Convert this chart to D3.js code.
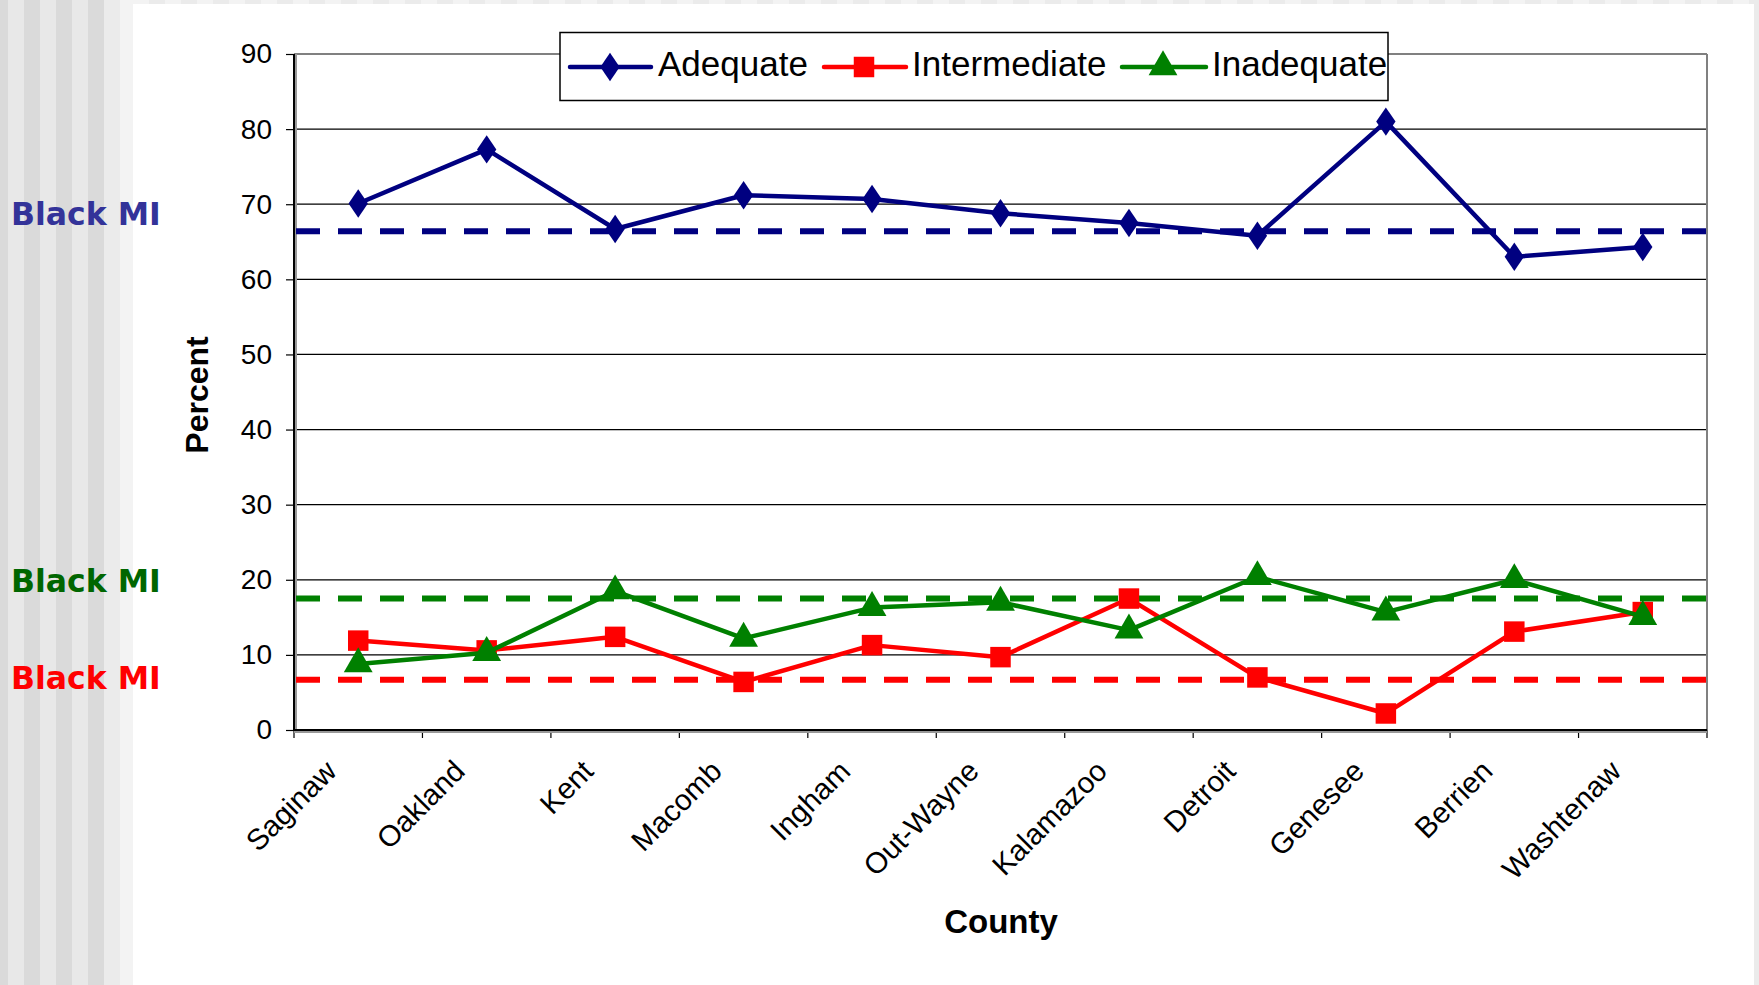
<!DOCTYPE html>
<html>
<head>
<meta charset="utf-8">
<script src="https://cdn.jsdelivr.net/npm/d3@7"></script>
<style>
  html, body { margin: 0; padding: 0; background: #ffffff; }
  svg { display: block; font-family: "Liberation Sans", Arial, sans-serif; }
</style>
</head>
<body>
<svg id="chart" width="1759" height="985"></svg>
<script>
// ---------- data ----------
const categories = ["Saginaw", "Oakland", "Kent", "Macomb", "Ingham", "Out-Wayne",
                    "Kalamazoo", "Detroit", "Genesee", "Berrien", "Washtenaw"];
const seriesNames = ["Adequate", "Intermediate", "Inadequate"];
const adequate     = [70.1, 77.3, 66.7, 71.2, 70.7, 68.8, 67.5, 65.8, 81.0, 63.0, 64.3];
const intermediate = [11.9, 10.6, 12.4, 6.4, 11.3, 9.7, 17.5, 7.0, 2.2, 13.1, 15.7];
const inadequate   = [8.8, 10.3, 18.5, 12.2, 16.3, 17.0, 13.3, 20.4, 15.7, 20.0, 15.1];
const blackMIValues = [66.4, 6.7, 17.5];           // Adequate, Intermediate, Inadequate reference
const blackMILabel = "Black MI";
const yTicks = [0, 10, 20, 30, 40, 50, 60, 70, 80, 90];
const xTitle = "County";
const yTitle = "Percent";

// ---------- styling ----------
const colors = ["#000080", "#ff0000", "#008000"];
const labelColors = ["#333399", "#ff0000", "#006600"];
const labelOffsets = [-18, -2, -18];

const svg = d3.select("#chart");
const W = 1759, H = 985;

// background stripes
const bg = svg.append("g");
for (let x = 0; x < 133; x += 16) {
  const i = Math.round(x / 16);
  let c;
  if (x < 100) c = (i % 2 === 0) ? "#dadada" : "#e8e8e8";
  else c = (i % 2 === 0) ? "#f3f3f3" : "#ebebeb";
  bg.append("rect").attr("x", x - 8).attr("y", 0).attr("width", 16).attr("height", H).attr("fill", c);
}
for (let x = 133; x < W; x += 16) {
  const i = Math.round((x - 133) / 16);
  bg.append("rect").attr("x", x).attr("y", 0).attr("width", 16).attr("height", 4)
    .attr("fill", i % 2 === 0 ? "#f3f3f3" : "#ebebeb");
}
bg.append("rect").attr("x", 133).attr("y", 4).attr("width", 1621).attr("height", H - 4).attr("fill", "#ffffff");
bg.append("rect").attr("x", 1754).attr("y", 0).attr("width", 5).attr("height", H).attr("fill", "#ebebeb");

// ---------- scales ----------
const x0 = 294, x1 = 1707, yTop = 54, yBot = 730;
const x = d3.scaleBand().domain(categories).range([x0, x1]);
const y = d3.scaleLinear().domain([0, 90]).range([yBot, yTop]);
const cx = c => x(c) + x.bandwidth() / 2;

// gridlines
svg.append("g").selectAll("line").data(yTicks.filter(t => t > 0 && t < 90)).join("line")
  .attr("x1", x0).attr("x2", x1).attr("y1", d => y(d)).attr("y2", d => y(d))
  .attr("stroke", "#000").attr("stroke-width", 1.2);

// plot border top/right
svg.append("line").attr("x1", x0).attr("x2", x1).attr("y1", y(90)).attr("y2", y(90))
  .attr("stroke", "#808080").attr("stroke-width", 2);
svg.append("line").attr("x1", x1).attr("x2", x1).attr("y1", y(90)).attr("y2", yBot)
  .attr("stroke", "#808080").attr("stroke-width", 2);

// y axis
const yAxis = svg.append("g").attr("transform", `translate(${x0},0)`)
  .call(d3.axisLeft(y).tickValues(yTicks).tickSize(8).tickPadding(14));
yAxis.select(".domain").remove();
yAxis.selectAll(".tick line").attr("stroke", "#000").attr("stroke-width", 1.2);
yAxis.selectAll(".tick text").attr("font-size", 28).attr("fill", "#000")
  .style("font-family", "'Liberation Sans', Arial, sans-serif");
svg.append("line").attr("x1", x0 + 2).attr("x2", x0 + 2).attr("y1", y(90)).attr("y2", yBot + 2)
  .attr("stroke", "#999").attr("stroke-width", 2);
svg.append("line").attr("x1", x0).attr("x2", x0).attr("y1", y(90)).attr("y2", yBot)
  .attr("stroke", "#000").attr("stroke-width", 2);

// x axis
const bounds = categories.map(c => x(c)).concat([x1]);
svg.append("g").selectAll("line").data(bounds).join("line")
  .attr("x1", d => d).attr("x2", d => d).attr("y1", yBot).attr("y2", yBot + 8)
  .attr("stroke", "#000").attr("stroke-width", 1.2);
svg.append("line").attr("x1", x0).attr("x2", x1).attr("y1", yBot + 2).attr("y2", yBot + 2)
  .attr("stroke", "#999").attr("stroke-width", 2);
svg.append("line").attr("x1", x0).attr("x2", x1).attr("y1", yBot).attr("y2", yBot)
  .attr("stroke", "#000").attr("stroke-width", 2);

svg.append("g").selectAll("text").data(categories).join("text")
  .attr("transform", d => `translate(${cx(d) - 20},773) rotate(-45)`)
  .attr("text-anchor", "end").attr("font-size", 29.5).attr("fill", "#000")
  .text(d => d);

// axis titles
svg.append("text").attr("x", 1001).attr("y", 933).attr("text-anchor", "middle")
  .attr("font-size", 33).attr("font-weight", "bold").text(xTitle);
svg.append("text").attr("transform", "translate(208,395) rotate(-90)").attr("text-anchor", "middle")
  .attr("font-size", 32).attr("font-weight", "bold").text(yTitle);

// Black MI reference lines
svg.append("g").selectAll("line").data(blackMIValues).join("line")
  .attr("x1", x0 + 2).attr("x2", x1).attr("y1", d => y(d)).attr("y2", d => y(d))
  .attr("stroke", (d, i) => colors[i]).attr("stroke-width", 6)
  .attr("stroke-dasharray", "24 18");

svg.append("g").selectAll("text").data(blackMIValues).join("text")
  .attr("x", 11).attr("y", (d, i) => y(d) + labelOffsets[i]).attr("dy", "0.36em")
  .style("font-family", "'DejaVu Sans', Verdana, sans-serif").attr("font-weight", "bold")
  .attr("font-size", 31.5).attr("fill", (d, i) => labelColors[i]).text(blackMILabel);

// series
const seriesData = [adequate, intermediate, inadequate];
const symbols = [
  d3.symbol().type(d3.symbolDiamond2).size(330),
  d3.symbol().type(d3.symbolSquare).size(420),
  d3.symbol().type(d3.symbolTriangle).size(360)
];
const line = d3.line().x((d, i) => cx(categories[i])).y(d => y(d));
seriesData.forEach((vals, s) => {
  const g = svg.append("g");
  g.append("path").datum(vals).attr("d", line).attr("fill", "none")
    .attr("stroke", colors[s]).attr("stroke-width", 4.5).attr("stroke-linejoin", "round");
  g.selectAll("path.m").data(vals).join("path").attr("class", "m")
    .attr("transform", (d, i) => {
      const sy = s === 0 ? "scale(0.85,1.25)" : "";
      return `translate(${cx(categories[i])},${y(d)}) ${sy}`;
    })
    .attr("d", symbols[s]).attr("fill", colors[s]);
});

// legend
const lg = svg.append("g");
lg.append("rect").attr("x", 560).attr("y", 32.5).attr("width", 828).attr("height", 68)
  .attr("fill", "#fff").attr("stroke", "#000").attr("stroke-width", 1.5);
const legendItems = [
  { lx1: 570, lx2: 651, mx: 610, tx: 658 },
  { lx1: 824, lx2: 906, mx: 864, tx: 912 },
  { lx1: 1122, lx2: 1206, mx: 1163, tx: 1212 }
];
seriesNames.forEach((name, s) => {
  const it = legendItems[s];
  lg.append("line").attr("x1", it.lx1).attr("x2", it.lx2).attr("y1", 67).attr("y2", 67)
    .attr("stroke", colors[s]).attr("stroke-width", 4.5).attr("stroke-linecap", "round");
  lg.append("path").attr("transform", `translate(${it.mx},67) ${s === 0 ? "scale(0.85,1.25)" : ""}`)
    .attr("d", symbols[s]).attr("fill", colors[s]);
  lg.append("text").attr("x", it.tx).attr("y", 76).attr("font-size", 35).attr("fill", "#000").text(name);
});
</script>
</body>
</html>
